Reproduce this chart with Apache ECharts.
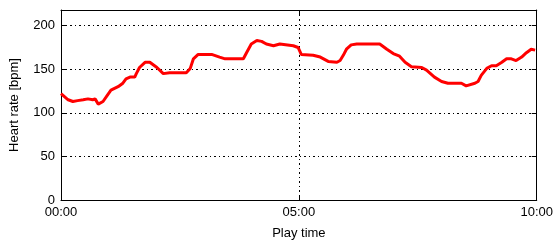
<!DOCTYPE html>
<html>
<head>
<meta charset="utf-8">
<script src="https://cdn.jsdelivr.net/npm/echarts@6/dist/echarts.min.js"></script>
<style>
  html, body { margin: 0; padding: 0; background: #fff; }
  #chart { width: 556px; height: 245px; }
</style>
</head>
<body>
<div id="chart"></div>
<script>
// play time in seconds, heart rate in bpm
const playTime = [0, 9, 15, 21, 28, 34, 40, 43, 47, 53, 59, 63, 72, 78, 82, 87, 93, 95, 99, 106, 112, 121, 129, 137, 158, 163, 167, 173, 190, 200, 207, 230, 234, 240, 247, 253, 259, 268, 276, 293, 299, 303, 318, 327, 337, 348, 352, 356, 360, 366, 373, 381, 402, 411, 419, 427, 434, 442, 455, 461, 471, 480, 488, 505, 511, 522, 526, 530, 537, 543, 549, 556, 562, 568, 574, 581, 587, 593, 598];
const heartRate = [122, 115, 113, 114, 115, 116, 115, 116, 110, 113, 121, 126, 130, 134, 139, 141, 141, 145, 152, 158, 158, 152, 145, 146, 146, 151, 162, 167, 167, 164, 162, 162, 169, 179, 183, 182, 179, 177, 179, 177, 175, 167, 166, 164, 159, 158, 160, 166, 173, 178, 179, 179, 179, 173, 168, 165, 158, 153, 152, 149, 141, 136, 134, 134, 131, 134, 136, 143, 151, 154, 154, 158, 162, 162, 160, 164, 169, 173, 172];
const xTicks = [0, 300, 600];
const yTicks = [0, 50, 100, 150, 200];

const fmtTime = (v) => {
  const m = Math.floor(v / 60), s = Math.round(v % 60);
  return String(m).padStart(2, '0') + ':' + String(s).padStart(2, '0');
};

const font = 'Liberation Sans, Arial, sans-serif';
const gridDash = { color: '#000', width: 1, type: [2, 3, 1, 3] };
const frame = { show: true, onZero: false, lineStyle: { color: '#000', width: 1 } };
const tick = { show: true, inside: true, length: 5, lineStyle: { color: '#000' } };

const chart = echarts.init(document.getElementById('chart'), null, { renderer: 'canvas' });

chart.setOption({
  animation: false,
  grid: { left: 61, right: 19, top: 10, bottom: 40 },
  xAxis: [
    {
      type: 'value', min: xTicks[0], max: xTicks[2], interval: 300,
      name: 'Play time', nameLocation: 'middle', nameGap: 27,
      nameTextStyle: { color: '#000', fontSize: 13, fontFamily: font },
      axisLine: frame,
      axisTick: tick,
      axisLabel: { color: '#000', fontSize: 13, fontFamily: font, margin: 6, formatter: fmtTime },
      splitLine: { show: true, lineStyle: gridDash }
    },
    {
      type: 'value', position: 'top', min: xTicks[0], max: xTicks[2], interval: 300,
      axisLine: frame,
      axisTick: tick,
      axisLabel: { show: false },
      splitLine: { show: false }
    }
  ],
  yAxis: [
    {
      type: 'value', min: yTicks[0], max: 218, interval: 50,
      name: 'Heart rate [bpm]', nameLocation: 'middle', nameGap: 40,
      nameTextStyle: { color: '#000', fontSize: 13, fontFamily: font },
      axisLine: frame,
      axisTick: tick,
      axisLabel: { color: '#000', fontSize: 13, fontFamily: font, margin: 6, showMaxLabel: false },
      splitLine: { show: true, lineStyle: gridDash }
    },
    {
      type: 'value', position: 'right', min: yTicks[0], max: 218, interval: 50,
      axisLine: frame,
      axisTick: tick,
      axisLabel: { show: false },
      splitLine: { show: false }
    }
  ],
  series: [
    {
      type: 'line',
      data: playTime.map((t, i) => [t, heartRate[i]]),
      showSymbol: false,
      lineStyle: { color: '#ff0000', width: 3 },
      z: 3
    }
  ]
});
</script>
</body>
</html>
